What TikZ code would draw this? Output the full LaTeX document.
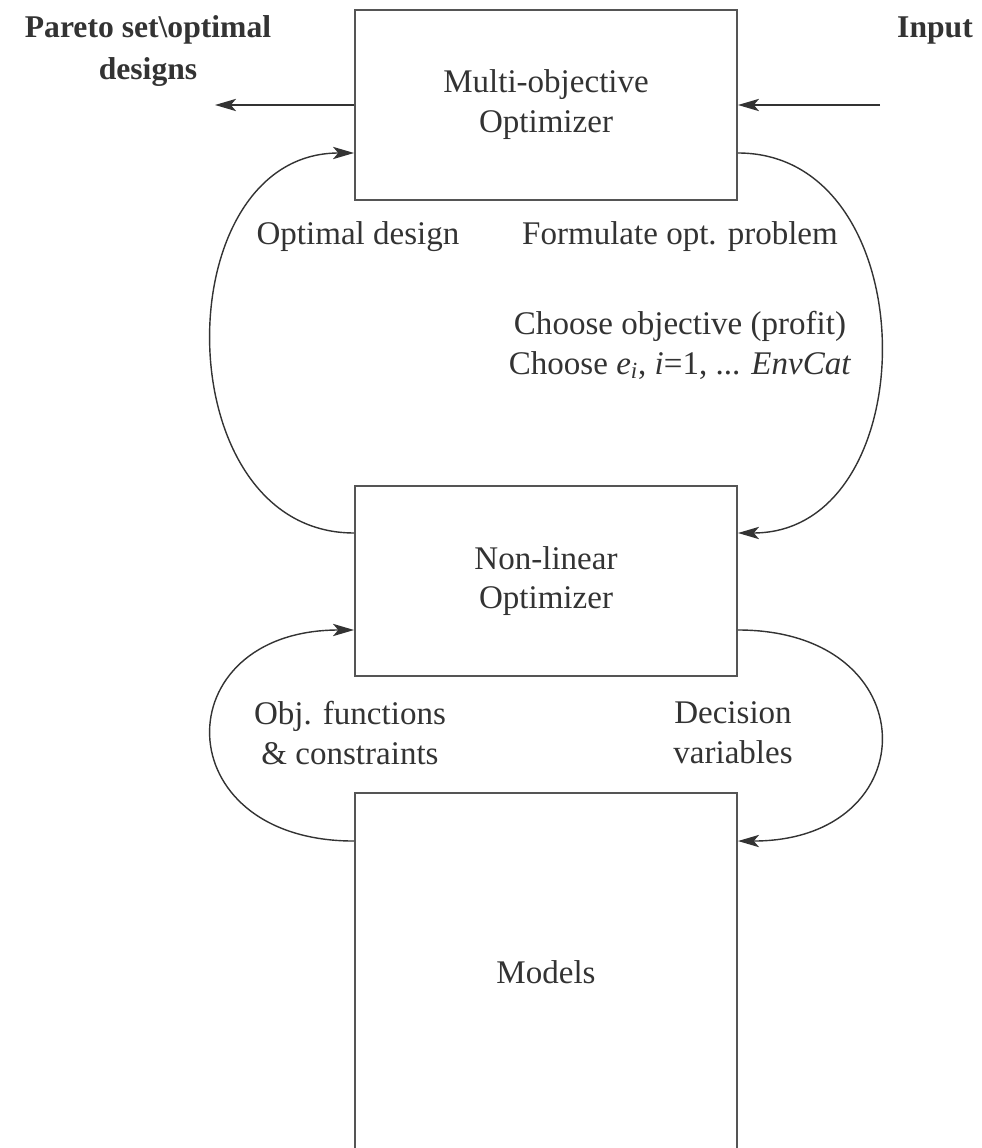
\documentclass[tikz,border=0pt]{standalone}
\usepackage{fontspec}
\setmainfont{Liberation Serif}
\usepackage{tikz}
\usetikzlibrary{arrows.meta,positioning,calc}
\definecolor{dgray}{HTML}{333333}
\definecolor{lgray}{HTML}{555555}
\tikzset{
  blk/.style={draw=lgray,line width=1.1pt,minimum width=7.64cm,minimum height=3.8cm,align=center,text=dgray,font=\fontsize{18.8}{22.7}\selectfont},
  lbl/.style={align=center,text=dgray,font=\fontsize{18.8}{22.7}\selectfont},
  blbl/.style={lbl,font=\fontsize{18}{23.5}\selectfont\bfseries},
  arr/.style={-{Stealth[length=12pt,width=7pt,inset=3pt]},line width=0.8pt,draw=dgray},
}
\begin{document}
\begin{tikzpicture}
  \useasboundingbox (0,0) rectangle (19.62,-22.96);
  % boxes
  \node[blk] (moo) at (10.92,-2.1) {Multi-objective\\Optimizer};
  \node[blk] (nlp) at (10.92,-11.62) {Non-linear\\Optimizer};
  \node[blk,minimum height=7.16cm] (mod) at (10.92,-19.44) {Models};
  % input / output
  \coordinate (pout) at (4.3,-2.1);
  \coordinate (pin) at (17.6,-2.1);
  \node[blbl] (pareto) at (2.96,-1.02) {Pareto set\textbackslash optimal\\designs};
  \node[blbl] (input) at (18.7,-0.62) {Input};
  \draw[arr] (moo.west) -- (pout);
  \draw[arr] (pin) -- (moo.east);
  % loop moo <-> nlp
  \draw[arr] ([yshift=0.96cm]nlp.west) .. controls +(-3.8,0) and +(-3.8,0) .. ([yshift=-0.96cm]moo.west);
  \draw[arr] ([yshift=-0.96cm]moo.east) .. controls +(3.8,0) and +(3.8,0) .. ([yshift=0.96cm]nlp.east);
  \node[lbl] (optd) at (7.16,-4.74) {Optimal design};
  \node[lbl] (form) at (13.6,-4.74) {Formulate opt. problem};
  \node[lbl] (choose) at (13.6,-6.9) {Choose objective (profit)\\Choose \textit{e}\textsubscript{\textit{i}}, \textit{i}=1, ... \textit{EnvCat}};
  % loop nlp <-> mod
  \draw[arr] ([yshift=-0.98cm]mod.north west) .. controls +(-3.8,0) and +(-3.8,0) .. ([yshift=-0.98cm]nlp.west);
  \draw[arr] ([yshift=-0.98cm]nlp.east) .. controls +(3.8,0) and +(3.8,0) .. ([yshift=-0.98cm]mod.north east);
  \node[lbl] (objf) at (7.0,-14.66) {Obj. functions\\\& constraints};
  \node[lbl] (decv) at (14.66,-14.66) {Decision\\variables};
\end{tikzpicture}
\end{document}
